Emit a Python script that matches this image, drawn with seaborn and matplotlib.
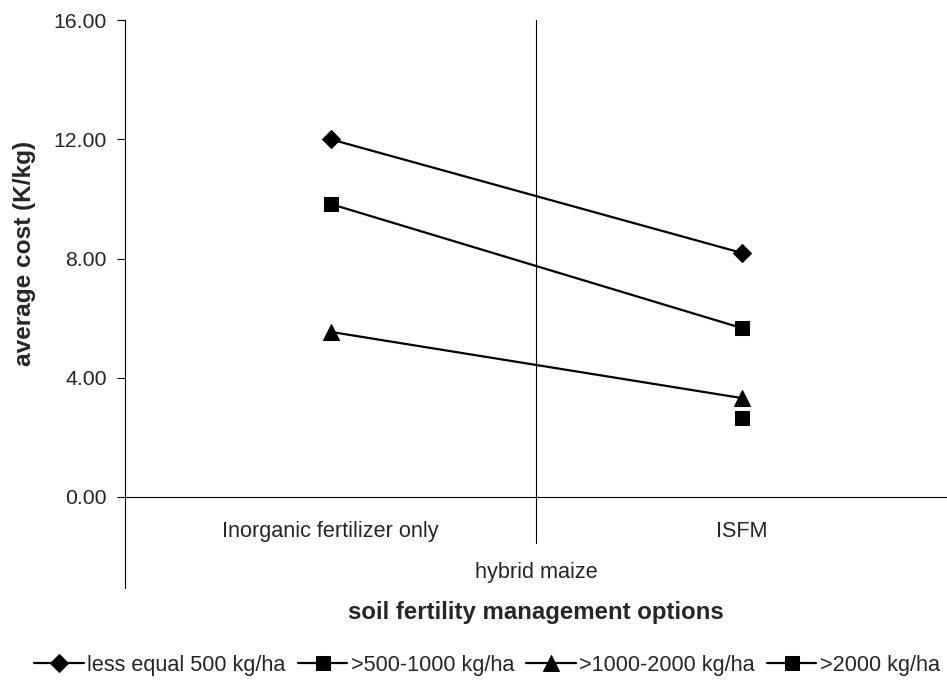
import matplotlib
matplotlib.use("Agg")
import matplotlib.pyplot as plt
import seaborn as sns
import numpy as np
import pandas as pd

categories = ["Inorganic fertilizer only", "ISFM"]
series_names = ["less equal 500 kg/ha", ">500-1000 kg/ha", ">1000-2000 kg/ha", ">2000 kg/ha"]
vals_500 = [12.00, 8.19]
vals_1000 = [9.83, 5.67]
vals_2000 = [5.54, 3.32]
vals_over = [np.nan, 2.65]
y_ticks = [0, 4, 8, 12, 16]
y_ticklabels = ["0.00", "4.00", "8.00", "12.00", "16.00"]
group_label = "hybrid maize"
x_title = "soil fertility management options"
y_title = "average cost (K/kg)"

sns.set_style("white")
plt.rcParams["font.family"] = ["Liberation Sans", "DejaVu Sans"]

fig = plt.figure(figsize=(9.47, 6.87), dpi=100)
ax = fig.add_axes([125/947, (687-497)/687, 822/947, 477/687])

markers = ["D", "s", "^", "s"]
msizes = [9, 10, 11, 10]
all_vals = [vals_500, vals_1000, vals_2000, vals_over]
for name, vals, m, ms in zip(series_names, all_vals, markers, msizes):
    df = pd.DataFrame({"x": [0, 1], "y": vals}).dropna()
    sns.lineplot(data=df, x="x", y="y", ax=ax, color="black", marker=m,
                 markersize=ms, markeredgecolor="black", linewidth=1.6,
                 label=name, legend=False)

ax.set_xlim(-0.5, 1.5)
ax.set_ylim(0, 16)
ax.set_yticks(y_ticks)
ax.set_yticklabels(y_ticklabels)
ax.set_xticks([0, 1])
ax.set_xticklabels(categories)
ax.set_xlabel("")
ax.set_ylabel("")
ax.tick_params(axis="x", length=0, pad=17, labelsize=15.6)
ax.tick_params(axis="y", left=True, length=6, width=0.8, direction="out", pad=7,
               labelsize=15.3, color="black")

for s in ["top", "right"]:
    ax.spines[s].set_visible(False)
ax.spines["left"].set_visible(False)
ax.spines["bottom"].set_color("black")
ax.spines["bottom"].set_linewidth(0.8)

# extended left axis line and category divider
ax.plot([0, 0], [1, -0.191], transform=ax.transAxes, color="black", lw=0.8, clip_on=False)
ax.plot([0.5, 0.5], [1, -0.096], transform=ax.transAxes, color="black", lw=0.8, clip_on=False)

ax.text(0.5, -0.159, group_label, transform=ax.transAxes, ha="center", va="center", fontsize=15.6)
ax.text(0.5, -(613-497)/477, x_title, transform=ax.transAxes, ha="center", va="center",
        fontsize=17.3, fontweight="bold")
fig.text(24/947, 1-253/687, y_title, ha="center", va="center", rotation=90,
         fontsize=17.6, fontweight="bold")

handles, labels = ax.get_legend_handles_labels()
fig.legend(handles, labels, loc="center", bbox_to_anchor=(487/947, 1-665/687), ncol=4,
           frameon=False, fontsize=15.6, handlelength=2.3, handletextpad=0.15,
           columnspacing=0.55)

fig.savefig("out.png", dpi=100)
